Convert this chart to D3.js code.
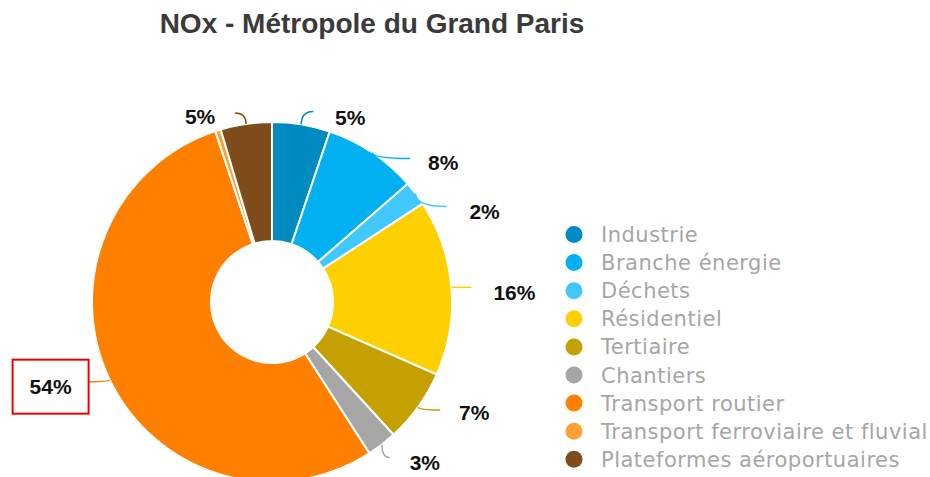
<!DOCTYPE html>
<html>
<head>
<meta charset="utf-8">
<script src="https://cdn.jsdelivr.net/npm/d3@7"></script>
<style>
  body { margin: 0; background: #fff; }
  svg { display: block; }
</style>
</head>
<body>
<div id="chart"></div>
<script>
// Data: share of NOx emissions by sector (%)
const sectors = ["Industrie", "Branche énergie", "Déchets", "Résidentiel", "Tertiaire",
    "Chantiers", "Transport routier", "Transport ferroviaire et fluvial", "Plateformes aéroportuaires"];
const shares = [5.2, 8.4, 2.2, 15.8, 6.6, 2.7, 54.0, 0.5, 4.6];
const colors = ["#008bc0", "#00b0f0", "#40c8ff", "#ffd000", "#c4a000",
    "#a6a6a6", "#ff7f00", "#ffa033", "#7f4c1c"];
const highlighted = "Transport routier";

// label placement, offsets from the slice's outer mid point [labelDx, labelDy, lineDx, lineDy]
const labelLayout = {
    "Industrie": [49, -7, 12, -13],
    "Branche énergie": [71, 10, 38, 6],
    "Déchets": [69, 18, 31, 13],
    "Résidentiel": [63, 5, 20, 0],
    "Tertiaire": [56, 6, 22, 3],
    "Chantiers": [43, 18, 8, 13],
    "Transport routier": [-59, 7, -20, 2],
    "Plateformes aéroportuaires": [-46, -7, -11, -11]
};

const width = 930, height = 477;
const cx = 272, cy = 302, outerR = 180, innerR = 61;

const svg = d3.select("#chart").append("svg")
    .attr("width", width)
    .attr("height", height);

// Title
svg.append("text")
    .attr("x", 372)
    .attr("y", 33)
    .attr("text-anchor", "middle")
    .style("font-family", "Liberation Sans, Arial, sans-serif")
    .style("font-weight", "bold")
    .style("font-size", "28px")
    .style("fill", "#3a3a3a")
    .text("NOx - Métropole du Grand Paris");

const data = sectors.map((s, i) => ({sector: s, value: shares[i], color: colors[i]}));

const pie = d3.pie().sort(null).value(d => d.value);
const arc = d3.arc().innerRadius(innerR).outerRadius(outerR);
const arcs = pie(data);

const chart = svg.append("g")
    .attr("transform", `translate(${cx},${cy})`);

chart.selectAll(".slice")
    .data(arcs)
    .join("path")
    .attr("class", "slice")
    .attr("d", arc)
    .attr("fill", d => d.data.color)
    .attr("stroke", "#fff")
    .attr("stroke-width", 2);

// Labels with leader lines
const labelled = arcs.filter(d => labelLayout[d.data.sector]);

const edgePoint = d => {
    const a = (d.startAngle + d.endAngle) / 2;
    return [outerR * Math.sin(a), -outerR * Math.cos(a)];
};

chart.selectAll(".leader")
    .data(labelled)
    .join("path")
    .attr("class", "leader")
    .attr("fill", "none")
    .attr("stroke", d => d.data.color)
    .attr("stroke-width", 1.5)
    .attr("d", d => {
        const [x0, y0] = edgePoint(d);
        const l = labelLayout[d.data.sector];
        const x1 = x0 + l[2], y1 = y0 + l[3];
        return `M${x0},${y0} Q${x0},${y1} ${x1},${y1}`;
    });

chart.selectAll(".pct")
    .data(labelled)
    .join("text")
    .attr("class", "pct")
    .attr("x", d => edgePoint(d)[0] + labelLayout[d.data.sector][0])
    .attr("y", d => edgePoint(d)[1] + labelLayout[d.data.sector][1])
    .attr("dy", "0.36em")
    .attr("text-anchor", "middle")
    .style("font-family", "Liberation Sans, Arial, sans-serif")
    .style("font-weight", "bold")
    .style("font-size", "21px")
    .style("fill", "#111")
    .text(d => Math.round(d.value) + "%");

// Red frame on the highlighted label
labelled.filter(d => d.data.sector === highlighted).forEach(d => {
    const l = labelLayout[d.data.sector];
    const [x0, y0] = edgePoint(d);
    chart.append("rect")
        .attr("x", x0 + l[0] - 38)
        .attr("y", y0 + l[1] - 27)
        .attr("width", 76)
        .attr("height", 54)
        .attr("fill", "none")
        .attr("stroke", "#ee0000")
        .attr("stroke-width", 2);
});

// Legend
const legend = svg.append("g")
    .attr("transform", "translate(574,234.5)");

const rows = legend.selectAll(".row")
    .data(data)
    .join("g")
    .attr("class", "row")
    .attr("transform", (d, i) => `translate(0,${i * 28.1})`);

rows.append("circle")
    .attr("r", 8.5)
    .attr("fill", d => d.color);

rows.append("text")
    .attr("x", 27)
    .attr("dy", "0.36em")
    .style("font-family", "DejaVu Sans, sans-serif")
    .style("font-size", "21px")
    .style("letter-spacing", "0.5px")
    .style("fill", "#a6a6a6")
    .text(d => d.sector);
</script>
</body>
</html>
